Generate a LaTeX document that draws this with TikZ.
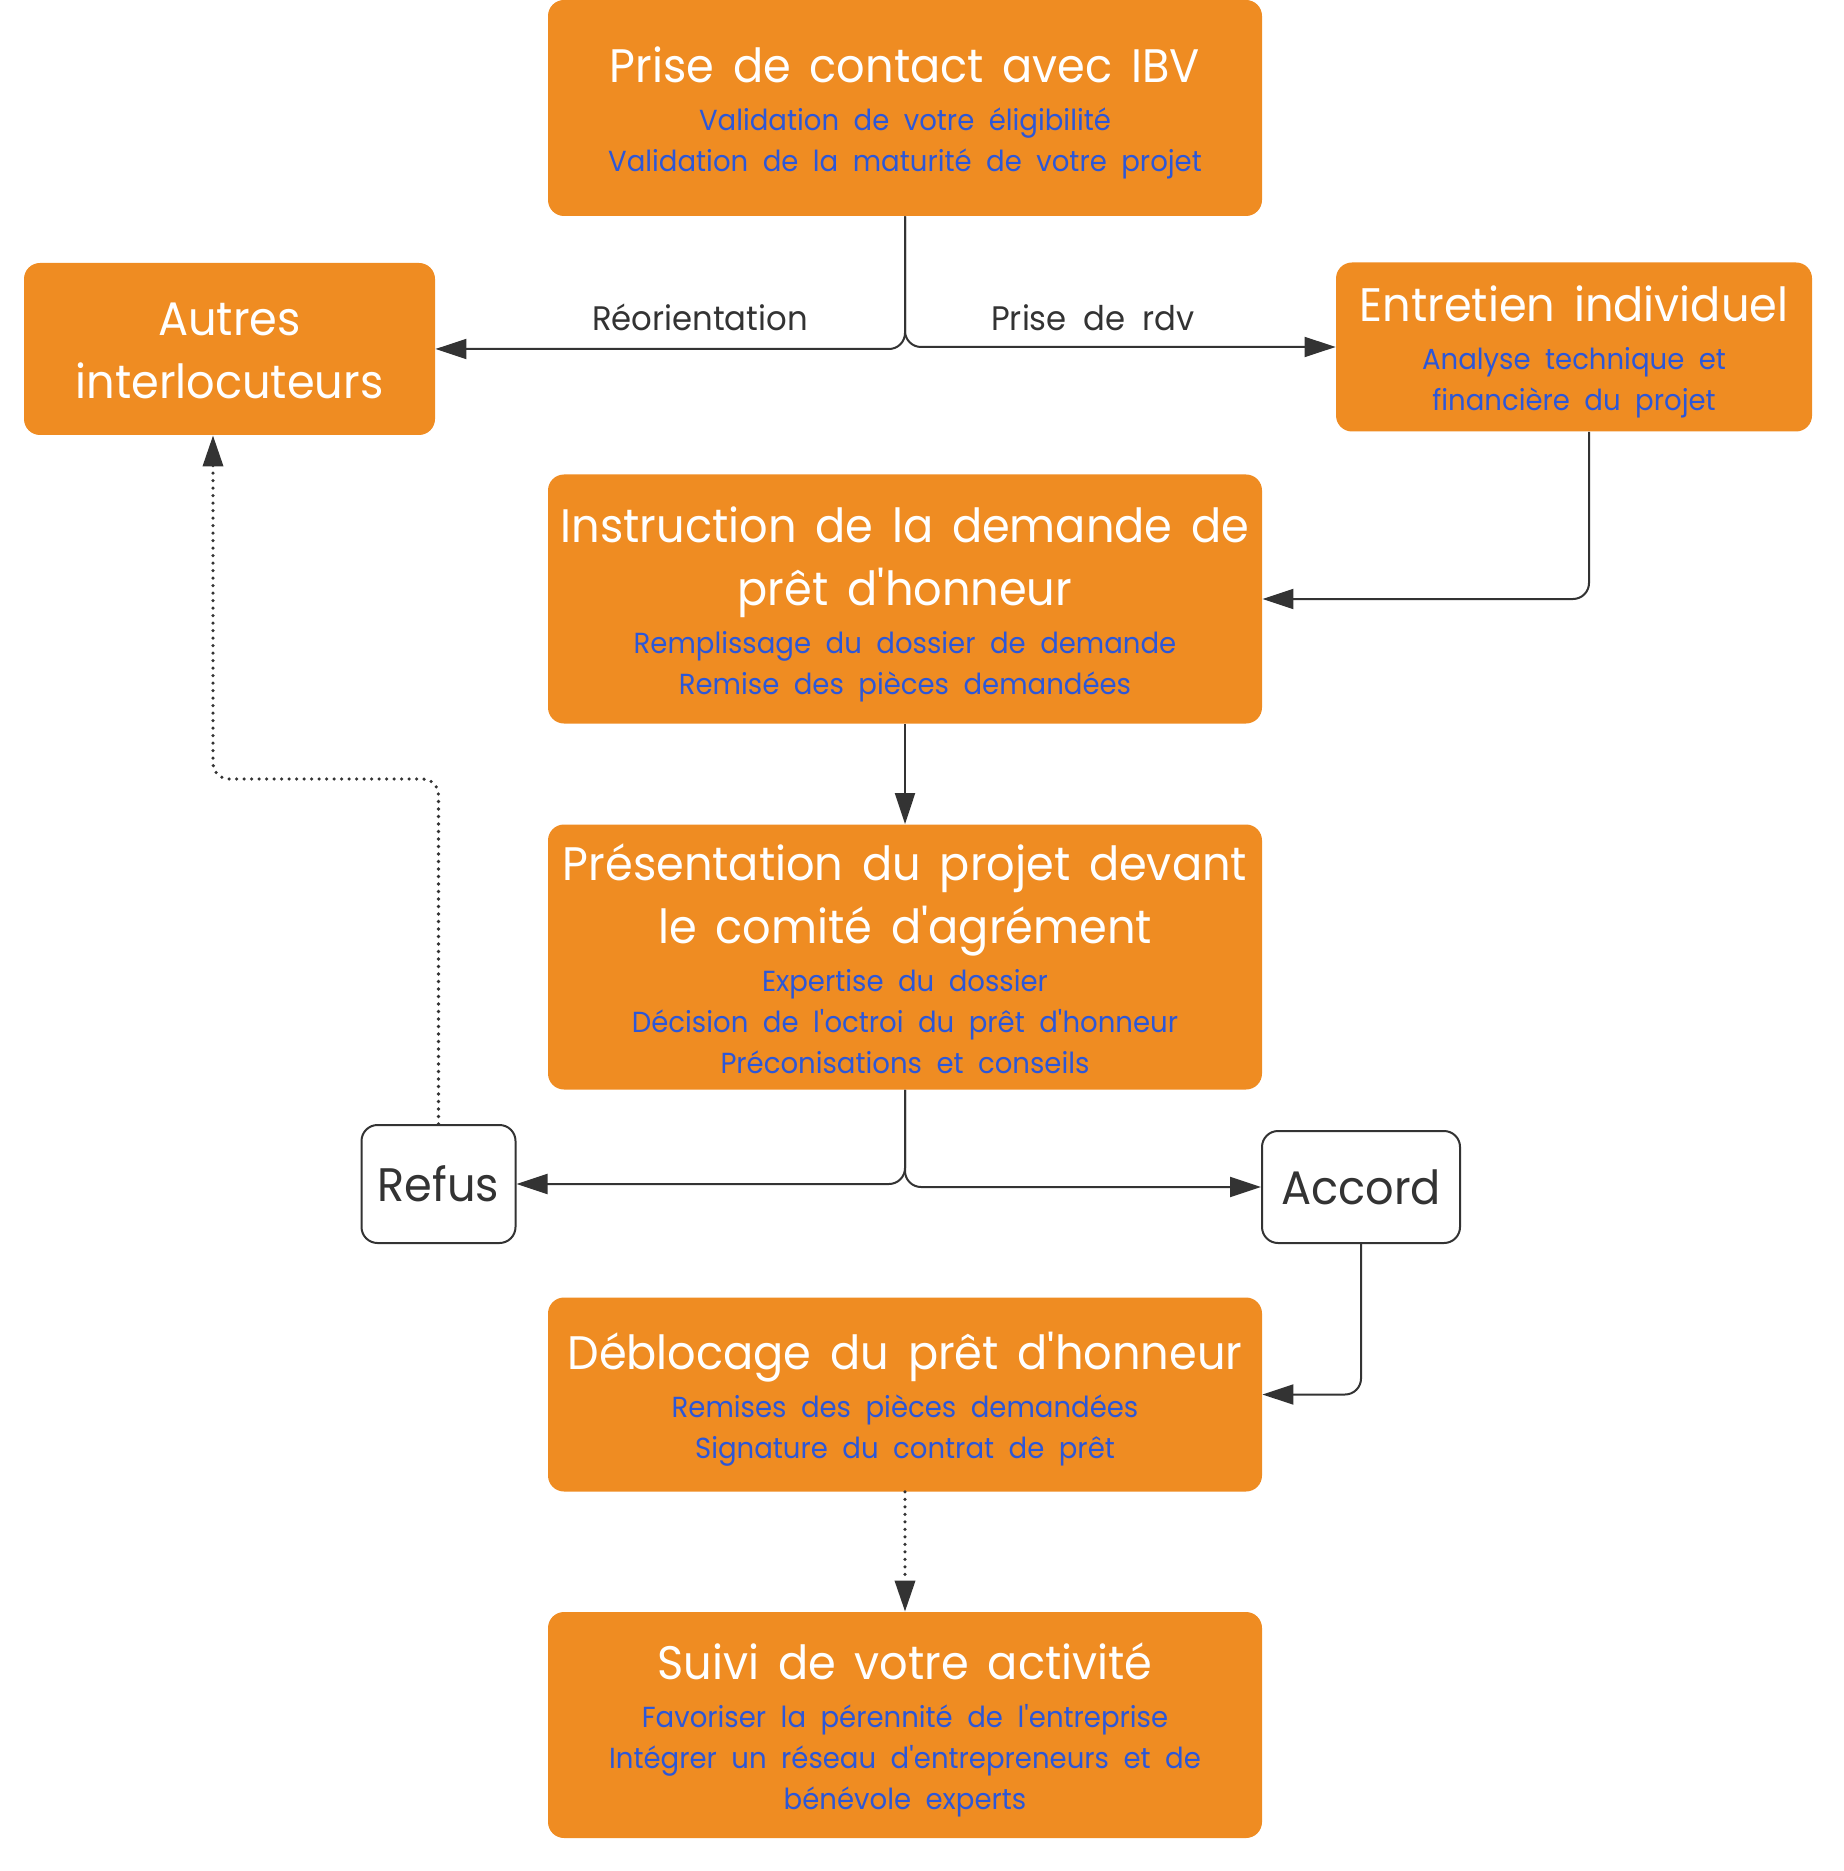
\documentclass[tikz,border=0pt]{standalone}
\usepackage{fontspec}
\setmainfont{Poppins}[FakeStretch=0.95]
\usetikzlibrary{arrows.meta}
\usetikzlibrary{positioning}

\definecolor{orangeibv}{HTML}{EF8C22}
\definecolor{bleuibv}{HTML}{2C57D8}
\definecolor{traitibv}{HTML}{333333}

\newcommand{\titre}[1][5pt]{\par\nointerlineskip\vspace*{#1}\fontsize{23.5}{31.5}\selectfont\spaceskip=0.4em\relax\color{white}}
\newcommand{\sous}{\par\vspace{3.5pt}\fontsize{14.5}{20.5}\selectfont\spaceskip=0.5em\relax\color{bleuibv}}
\newcommand{\etiq}{\fontsize{17}{20}\selectfont\spaceskip=0.5em\relax}
\newcommand{\ap}{\textquotesingle}

\tikzset{
  etape/.style={rectangle, rounded corners=8pt, fill=orangeibv, inner xsep=0pt, inner ysep=0pt, align=center},
  issue/.style={rectangle, rounded corners=8pt, draw=traitibv, line width=1pt, fill=white, text=traitibv, font=\fontsize{23.5}{26}\selectfont},
  fleche/.style={draw=traitibv, line width=1pt, rounded corners=8pt, -{Triangle[length=15.5pt,width=10pt]}},
  pointille/.style={line width=1.8pt, line cap=round, dash pattern=on 0pt off 3.75pt},
  etiquette/.style={text=traitibv, font=\etiq}
}

\begin{document}
\begin{tikzpicture}[x=0.5pt,y=-0.5pt]
\useasboundingbox (0,0) rectangle (1843,1871);

\node[etape, text width=357pt, minimum height=108pt] (contact) at (905,108)
  {\titre Prise de contact avec IBV\sous Validation de votre éligibilité\\Validation de la maturité de votre projet\par};
\node[etape, text width=205.5pt, minimum height=86pt] (autres) at (229.5,349)
  {\titre[2pt] Autres\\interlocuteurs\par};
\node[etape, text width=238pt, minimum height=84.5pt] (entretien) at (1574,347)
  {\titre Entretien individuel\sous Analyse technique et\\financière du projet\par};
\node[etape, text width=357pt, minimum height=124.5pt] (instruction) at (905,599)
  {\titre Instruction de la demande de\\prêt d\ap honneur\sous Remplissage du dossier de demande\\Remise des pièces demandées\par};
\node[etape, text width=357pt, minimum height=132.5pt] (comite) at (905,957)
  {\titre[2pt] Présentation du projet devant\\le comité d\ap agrément\sous Expertise du dossier\\Décision de l\ap octroi du prêt d\ap honneur\\Préconisations et conseils\par};
\node[issue, minimum width=77pt, minimum height=59pt] (refus) at (438.5,1184) {Refus};
\node[issue, minimum width=99pt, minimum height=56pt] (accord) at (1361,1187) {Accord};
\node[etape, text width=357pt, minimum height=97pt] (deblocage) at (905,1394.5)
  {\titre Déblocage du prêt d\ap honneur\sous Remises des pièces demandées\\Signature du contrat de prêt\par};
\node[etape, text width=357pt, minimum height=113pt] (suivi) at (905,1725)
  {\titre Suivi de votre activité\sous Favoriser la pérennité de l\ap entreprise\\Intégrer un réseau d\ap entrepreneurs et de\\bénévole experts\par};

\draw[fleche] (contact.south) |- (autres.east);
\draw[fleche] (contact.south) |- (entretien.west);
\node[etiquette] (reorientation) at (700,317) {Réorientation};
\node[etiquette] (rdv) at (1093,318) {Prise de rdv};

\draw[fleche] ([xshift=7.5pt]entretien.south) |- (instruction.east);
\draw[fleche] (instruction) -- (comite);
\draw[fleche] (comite.south) |- (refus.east);
\draw[fleche] (comite.south) |- (accord.west);

\coordinate (coude) at (213,779);
\draw[fleche, pointille] (refus.north) |- (coude) -- (coude |- autres.south);
\draw[fleche] (accord.south) |- (deblocage.east);
\draw[fleche, pointille] (deblocage) -- (suivi);

\end{tikzpicture}
\end{document}
